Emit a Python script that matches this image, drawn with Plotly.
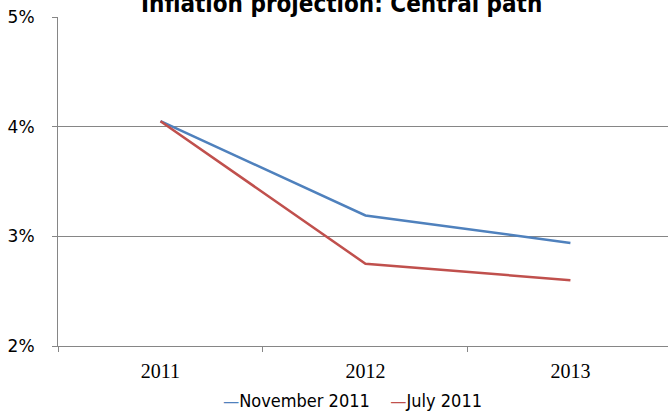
import plotly.graph_objects as go

# Inflation projection, central path (annual %, by year)
years = ["2011", "2012", "2013"]
november_2011 = [4.05, 3.19, 2.94]
july_2011 = [4.05, 2.75, 2.60]
series_names = ["November 2011", "July 2011"]
series_colors = ["#4F81BD", "#C0504D"]
y_ticks = [2, 3, 4, 5]
y_tick_labels = ["2%", "3%", "4%", "5%"]

fig = go.Figure()
for name, vals, col in zip(series_names, [november_2011, july_2011], series_colors):
    fig.add_trace(go.Scatter(
        x=years, y=vals, mode="lines", name=name,
        line=dict(color=col, width=2.5), showlegend=False,
    ))

# Legend drawn as a single centred text line with coloured dashes
legend_text = "&nbsp;&nbsp;&nbsp;&nbsp;".join(
    f"<span style='color:{c}'>—</span>{n}" for n, c in zip(series_names, series_colors)
)
fig.add_annotation(
    text=legend_text, xref="paper", yref="paper", x=(352 - 58) / 610, y=-0.165,
    xanchor="center", yanchor="middle", showarrow=False,
    font=dict(family="DejaVu Sans Condensed", size=18, color="#000000"),
)

# Title, clipped at the top of the page
fig.add_annotation(
    text="<b>Inflation projection: Central path</b>", xref="paper", yref="paper",
    x=(341 - 58) / 610, y=1 + (17 - 4) / 329, xanchor="center", yanchor="middle",
    showarrow=False, font=dict(family="DejaVu Sans Condensed", size=24, color="#000000"),
)

fig.update_layout(
    width=668, height=412,
    margin=dict(l=58, r=0, t=17, b=66),
    paper_bgcolor="#FFFFFF", plot_bgcolor="#FFFFFF",
    xaxis=dict(
        type="category", range=[-0.5, 2.476], showgrid=False,
        showline=True, linecolor="#868686", linewidth=1,
        ticks="outside", tickson="boundaries", ticklen=5, tickcolor="#868686",
        tickfont=dict(family="Liberation Serif", size=20, color="#000000"),
        ticklabelstandoff=7,
    ),
    yaxis=dict(
        range=[2, 5], tickvals=y_ticks, ticktext=y_tick_labels,
        showgrid=True, gridcolor="#868686", gridwidth=1,
        showline=True, linecolor="#868686", linewidth=1,
        ticks="outside", ticklen=5, tickcolor="#868686",
        tickfont=dict(family="DejaVu Sans", size=17, color="#000000"),
        ticklabelstandoff=14, zeroline=False,
    ),
)

fig.write_html("out.html")
